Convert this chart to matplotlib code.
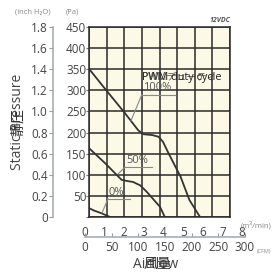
import matplotlib
matplotlib.use('Agg')
import matplotlib.pyplot as plt

# --- data ---
flow_100 = [0, 1.0, 2.0, 2.8, 3.1, 3.6, 3.95, 4.2, 4.5, 5.2, 5.7, 6.3]
pa_100 = [351, 299, 248, 205, 196, 194, 190, 178, 152, 95, 40, 0]
flow_50 = [0, 0.9, 1.85, 2.2, 2.5, 2.9, 3.27, 4.03, 4.3]
pa_50 = [163, 128, 88, 85, 83, 75, 60, 24, 0]
flow_0 = [0, 0.3, 0.7, 1.2]
pa_0 = [21, 15, 9, 0]

m3_ticks = [0, 1, 2, 3, 4, 5, 6, 7, 8]
cfm_ticks = [0, 50, 100, 150, 200, 250, 300]
pa_ticks = [0, 50, 100, 150, 200, 250, 300, 350, 400, 450]
pa_labels = ['', '50', '100', '150', '200', '250', '300', '350', '400', '450']
inch_ticks = [0, 0.2, 0.4, 0.6, 0.8, 1.0, 1.2, 1.4, 1.6, 1.8]
inch_labels = ['0', '0.2', '0.4', '0.6', '0.8', '1.0', '1.2', '1.4', '1.6', '1.8']

plt.rcParams['font.family'] = ['Open Sans', 'Noto Sans CJK JP', 'DejaVu Sans']

W, H = 274, 278
TXT = '#444444'
GRID = '#2a2a2a'

fig = plt.figure(figsize=(W / 100, H / 100), dpi=100)


def fx(px):
    return px / W


def fy(py):
    return 1 - py / H


# main plot area
ax = fig.add_axes([fx(89), fy(217), fx(230 - 89), (217 - 27) / H])
ax.set_facecolor('#fcf9e6')
ax.set_xlim(0, 8)
ax.set_ylim(0, 450)
ax.set_xticks(m3_ticks)
ax.set_yticks(pa_ticks)
ax.set_yticklabels(pa_labels)
ax.tick_params(axis='x', length=0, labelbottom=False)
ax.tick_params(axis='y', length=2, width=0.8, pad=0, labelsize=8.5,
               colors=TXT, color='#777777')
ax.grid(True, color=GRID, linewidth=1.1)
for s in ax.spines.values():
    s.set_color(GRID)
    s.set_linewidth(1.1)

for xs, ys in [(flow_100, pa_100), (flow_50, pa_50), (flow_0, pa_0)]:
    ax.plot(xs, ys, color='#333333', linewidth=1.3, solid_capstyle='round')

# duty cycle annotations
ax.text(3.0, 331, 'PWM duty cycle', fontsize=7.8, color='#222222', va='center')
ax.text(3.0, 331, 'PWMデューティ', fontsize=7.2, color='#333333', va='center', alpha=0.8)

notes = [('100%', 3.0, 4.9, 290, (2.38, 228)),
         ('50%', 2.04, 3.57, 118, (1.65, 102)),
         ('0%', 1.08, 2.33, 43, (0.74, 10))]
for label, x0, x1, yu, tip in notes:
    ax.text(x0 + 0.05, yu + 3, label, fontsize=8, color='#555555', va='bottom')
    ax.plot([x0, x1], [yu, yu], color='#888888', linewidth=0.8)
    ax.plot([x0, tip[0]], [yu, tip[1]], color='#888888', linewidth=0.8)

# inch H2O axis
ax_in = fig.add_axes([fx(53), fy(217), 0.01, (217 - 27) / H])
ax_in.set_ylim(0, 1.8)
ax_in.set_yticks(inch_ticks)
ax_in.set_yticklabels(inch_labels)
ax_in.set_xticks([])
ax_in.patch.set_visible(False)
for k in ['top', 'right', 'bottom']:
    ax_in.spines[k].set_visible(False)
ax_in.spines['left'].set_color('#a8adb5')
ax_in.spines['left'].set_linewidth(1.2)
ax_in.tick_params(axis='y', length=3, width=0.8, pad=0.5, labelsize=8.5,
                  colors=TXT, color='#999999')

# m3/min labels row
ax_m3 = fig.add_axes([fx(85), fy(226), fx(242 - 85), 0.001])
ax_m3.set_xlim(0, 8)
ax_m3.set_xticks(m3_ticks)
ax_m3.set_xticklabels([str(t) for t in m3_ticks])
ax_m3.set_yticks([])
ax_m3.patch.set_visible(False)
for s in ax_m3.spines.values():
    s.set_visible(False)
ax_m3.tick_params(axis='x', length=0, pad=0, labelsize=8.5, colors=TXT)

# CFM axis
ax_cfm = fig.add_axes([fx(85), fy(237), fx(245 - 85), 0.001])
ax_cfm.set_xlim(0, 300)
ax_cfm.set_xticks(cfm_ticks)
ax_cfm.set_xticklabels([str(t) for t in cfm_ticks])
ax_cfm.set_yticks([])
ax_cfm.patch.set_visible(False)
for k in ['top', 'right', 'left']:
    ax_cfm.spines[k].set_visible(False)
ax_cfm.spines['bottom'].set_color('#a8adb5')
ax_cfm.spines['bottom'].set_linewidth(1.2)
ax_cfm.tick_params(axis='x', direction='in', length=3, width=0.8, pad=3,
                   labelsize=8.5, colors=TXT, color='#999999')

# headers and axis titles
fig.text(fx(15), fy(12), '(inch H\u2082O)', fontsize=5.5, color='#888888', va='center')
fig.text(fx(66), fy(12), '(Pa)', fontsize=5.5, color='#888888', va='center')
fig.text(fx(230), fy(20), '12VDC', fontsize=5, color='#555555', va='center',
         ha='right', fontweight='bold', style='italic')
fig.text(fx(241), fy(225), '(m\u00b3/min)', fontsize=5.5, color='#888888', va='center')
fig.text(fx(257), fy(251), '(CFM)', fontsize=4, color='#888888', va='center')

fig.text(fx(18), fy(122), 'Static Pressure', fontsize=10, color=TXT,
         rotation=90, ha='center', va='center')
fig.text(fx(18), fy(122), '静圧', fontsize=10, color='#333333',
         rotation=90, ha='center', va='center')
fig.text(fx(156), fy(264), 'Airflow', fontsize=10, color=TXT,
         ha='center', va='center')
fig.text(fx(157), fy(264), '風量', fontsize=10, color='#333333',
         ha='center', va='center')

fig.savefig('out.png', dpi=100, facecolor='white')
